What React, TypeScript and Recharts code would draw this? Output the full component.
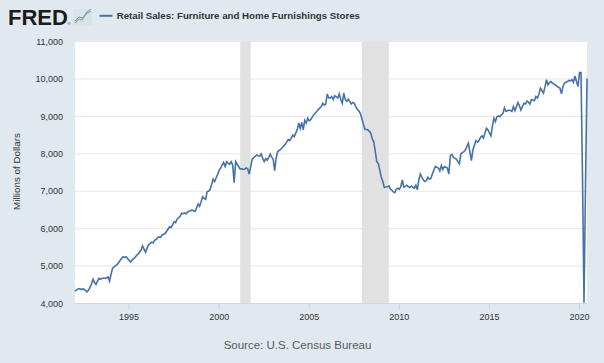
import React from 'react';
import { LineChart, Line, XAxis, YAxis, CartesianGrid, ReferenceArea } from 'recharts';

// monthly values, millions of dollars, starting Jan 1992
const sales1990s = [
  4330, 4360, 4390, 4400, 4370, 4390, 4380, 4350, 4310, 4360, 4430, 4520,
  4650, 4560, 4510, 4600, 4670, 4650, 4670, 4680, 4670, 4690, 4710, 4600,
  4780, 4940, 4980, 5010, 5040, 5090, 5150, 5200, 5250, 5230, 5250, 5200,
  5150, 5110, 5160, 5200, 5230, 5290, 5320, 5380, 5420, 5540, 5450, 5370,
  5480, 5570, 5600, 5640, 5620, 5690, 5710, 5760, 5780, 5770, 5830, 5850,
  5870, 5930, 5990, 6050, 6030, 6100, 6180, 6160, 6250, 6290, 6330, 6410,
  6400, 6420, 6400, 6440, 6470, 6480, 6500, 6470, 6460, 6560, 6660, 6600,
  6720, 6850, 6810, 6780, 6990, 7000, 7050, 7180, 7320, 7260, 7360, 7450,
];
const sales2000s = [
  7560, 7620, 7700, 7770, 7660, 7790, 7750, 7720, 7790, 7700, 7230, 7790,
  7720, 7660, 7590, 7600, 7580, 7590, 7620, 7600, 7460, 7650, 7850, 7900,
  7930, 7970, 7950, 7940, 7995, 7880, 7790, 7870, 7830, 7900, 7990, 7910,
  7850, 7550, 7900, 8060, 8090, 8120, 8160, 8210, 8250, 8320, 8380, 8350,
  8420, 8500, 8460, 8550, 8640, 8820, 8680, 8840, 8640, 8890, 8820, 8950,
  8880, 8910, 8980, 9040, 9090, 9130, 9180, 9220, 9260, 9350, 9300, 9330,
  9600, 9490, 9490, 9530, 9450, 9550, 9520, 9490, 9600, 9450, 9350, 9620,
  9450, 9400, 9460, 9400, 9330, 9370, 9350, 9260, 9190, 9150, 9080, 8950,
  8800, 8660, 8650, 8640, 8600, 8550, 8400, 8320, 8060, 7790, 7740, 7560,
  7370, 7260, 7100, 7110, 7120, 7140, 7060, 7030, 6980, 6960, 7060, 7080,
];
const sales2010s = [
  7050, 7120, 7300, 7110, 7130, 7160, 7120, 7100, 7140, 7110, 7080, 7160,
  7040, 7300, 7460, 7380, 7300, 7260, 7280, 7370, 7320, 7340, 7460, 7560,
  7660, 7640, 7620, 7540, 7690, 7580, 7660, 7640, 7620, 7460, 7950, 7980,
  7910, 7880, 7860, 7790, 7730, 8000, 8030, 8060, 8100, 8190, 8280, 8060,
  7820, 8100, 8230, 8350, 8310, 8350, 8430, 8480, 8420, 8550, 8680, 8640,
  8560, 8480, 8730, 8950, 8860, 8990, 9010, 8990, 9040, 9080, 9230, 9130,
  9150, 9170, 9160, 9130, 9260, 9150, 9260, 9370, 9280, 9170, 9260, 9350,
  9330, 9410, 9380, 9330, 9450, 9430, 9420, 9530, 9490, 9600, 9750, 9690,
  9620, 9780, 9980, 9840, 9900, 9930, 9890, 9860, 9840, 9800, 9780, 9750,
  9600, 9800, 9890, 9910, 9930, 9960, 9950, 9980, 9910, 10080, 9930, 9800,
];
const sales2020 = [10170, 10170, 7400, 4020, 7100, 10010];

const recessionStart = [2001.17, 2007.92, 2020.0];
const recessionEnd = [2001.75, 2009.42, 2020.42];

const yearTicks = [1995, 2000, 2005, 2010, 2015, 2020];
const valueTicks = [4000, 5000, 6000, 7000, 8000, 9000, 10000, 11000];

const allSales = [...sales1990s, ...sales2000s, ...sales2010s, ...sales2020];
const data = allSales.map((v, i) => ({ t: 1992 + i / 12, value: v }));
const lastT = 1992 + (allSales.length - 1) / 12;

const font = '"Liberation Sans", Arial, sans-serif';

export default function App() {
  return (
    <div style={{ position: 'absolute', left: 0, top: 0, width: 604, height: 363, background: '#e1e9f0', fontFamily: font }}>
      <LineChart width={604} height={363} data={data} margin={{ top: 41.5, right: 17, bottom: 29.5, left: 0 }}>
        <CartesianGrid vertical={false} stroke="#e6e6e6" fill="#ffffff" fillOpacity={1} />
        {recessionStart.map((s, i) => (
          <ReferenceArea key={i} x1={s} x2={recessionEnd[i]} fill="#e1e1e1" fillOpacity={1} stroke="none" />
        ))}
        <XAxis
          dataKey="t"
          type="number"
          domain={[1992, lastT]}
          ticks={yearTicks}
          stroke="#ccd6eb"
          tick={{ fill: '#333', fontSize: 9, fontFamily: font }}
          tickSize={6}
          tickMargin={4}
          height={30}
        />
        <YAxis
          domain={[4000, 11000]}
          ticks={valueTicks}
          axisLine={false}
          tickLine={false}
          tickMargin={6}
          width={75}
          tick={{ fill: '#333', fontSize: 9, fontFamily: font }}
          tickFormatter={(v: number) => v.toLocaleString('en-US')}
        />
        <Line type="linear" dataKey="value" stroke="#4572a7" strokeWidth={1.6} dot={false} isAnimationActive={false} />
      </LineChart>
      <svg width={604} height={363} style={{ position: 'absolute', left: 0, top: 0, pointerEvents: 'none' }}>
        <text x={8} y={25} fontFamily={font} fontWeight="bold" fontSize={22} fill="#1b1b1b">FRED</text>
        <text x={67.5} y={25} fontFamily={font} fontSize={4} fill="#1b1b1b">®</text>
        <rect x={74} y={9} width={18} height={16} fill="#dbe3ea" />
        <polyline points="75,23 79,19 82,20 86,14 91,11" fill="none" stroke="#8fb56a" strokeWidth={1.2} />
        <polyline points="75,21 79,17 83,18 87,12 91,9" fill="none" stroke="#6f93bd" strokeWidth={1} />
        <line x1={99.5} y1={15.8} x2={112.5} y2={15.8} stroke="#4572a7" strokeWidth={2} />
        <text x={116.7} y={19.4} fontFamily={font} fontWeight="bold" fontSize={9.7} fill="#333">
          Retail Sales: Furniture and Home Furnishings Stores
        </text>
        <text x={20} y={171.5} transform="rotate(-90, 20, 171.5)" textAnchor="middle" fontFamily={font} fontSize={9.8} fill="#333">
          Millions of Dollars
        </text>
        <text x={297.5} y={349.3} textAnchor="middle" fontFamily={font} fontSize={11.5} fill="#595959">
          Source: U.S. Census Bureau
        </text>
      </svg>
    </div>
  );
}
